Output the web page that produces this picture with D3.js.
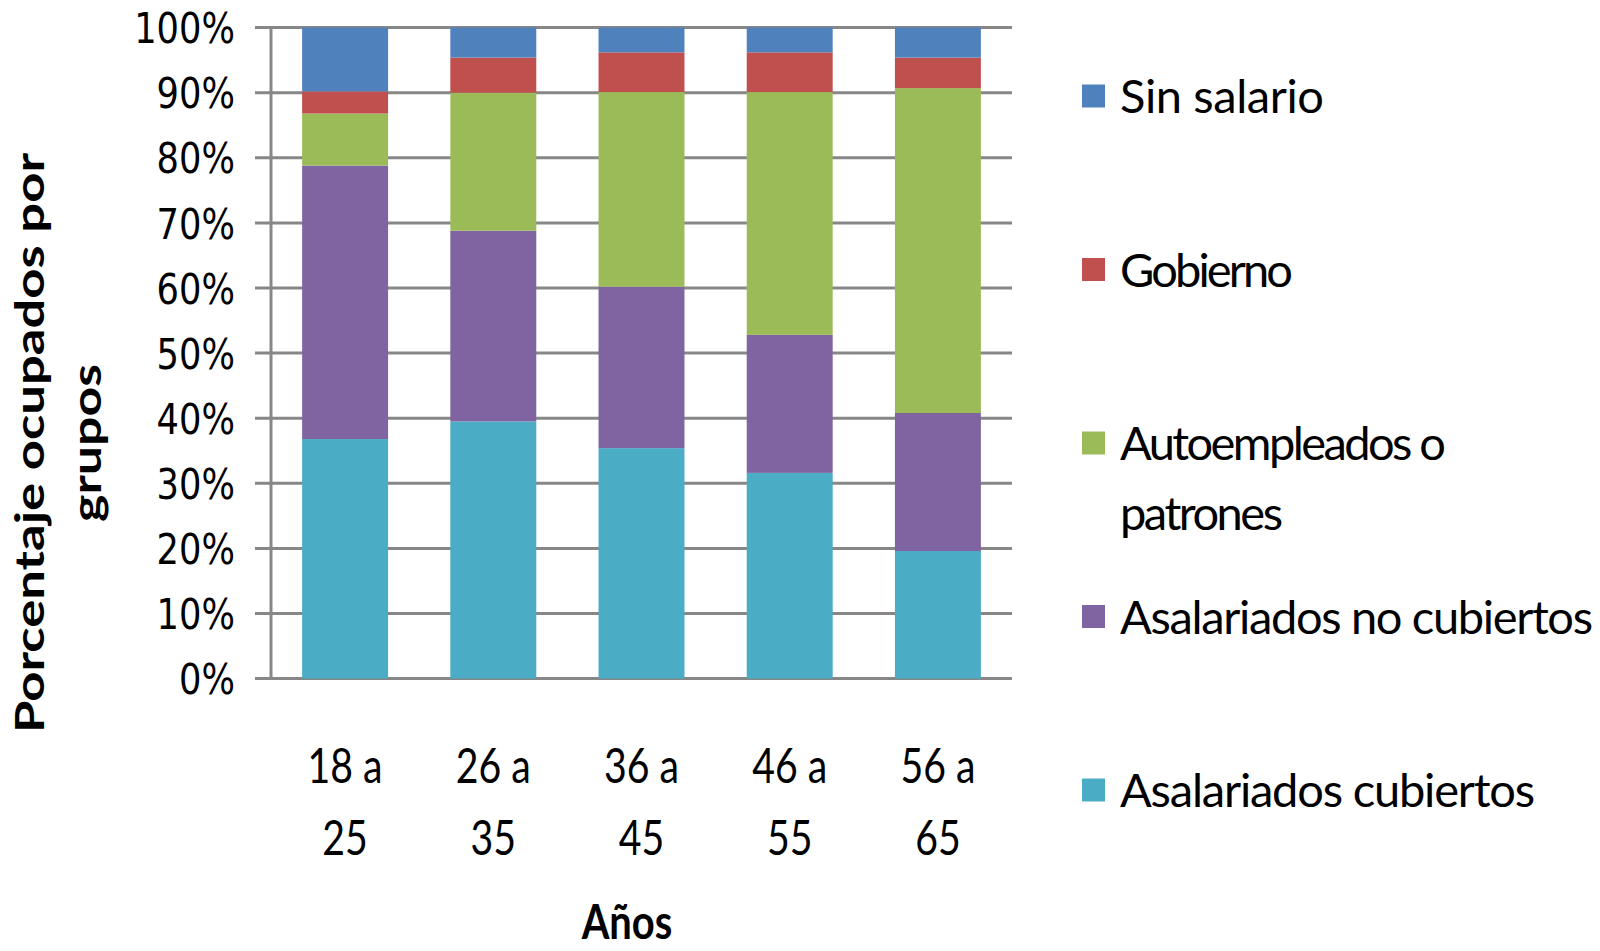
<!DOCTYPE html>
<html><head><meta charset="utf-8">
<script src="https://cdn.jsdelivr.net/npm/d3@7"></script>
<style>html,body{margin:0;padding:0;background:#fff;} svg{display:block;}</style>
</head><body>
<svg id="chart" width="1600" height="951"></svg>
<script>
// ---- data ----
const categories = [["18 a", "25"], ["26 a", "35"], ["36 a", "45"], ["46 a", "55"], ["56 a", "65"]];
const seriesNames = ["Asalariados cubiertos", "Asalariados no cubiertos", "Autoempleados o patrones", "Gobierno", "Sin salario"];
const asalariadosCubiertos   = [36.8, 39.5, 35.4, 31.6, 19.6];
const asalariadosNoCubiertos = [42.0, 29.3, 24.8, 21.2, 21.2];
const autoempleados          = [8.0, 21.2, 29.9, 37.3, 49.9];
const gobierno               = [3.4, 5.4, 6.1, 6.1, 4.7];
const sinSalario             = [9.8, 4.6, 3.8, 3.8, 4.6];
const yTicks = [0, 10, 20, 30, 40, 50, 60, 70, 80, 90, 100];
const colors = ["#4BACC6", "#8064A2", "#9BBB59", "#C0504D", "#4F81BD"];
const legendLines = {
  "Sin salario": ["Sin salario"],
  "Gobierno": ["Gobierno"],
  "Autoempleados o patrones": ["Autoempleados o", "patrones"],
  "Asalariados no cubiertos": ["Asalariados no cubiertos"],
  "Asalariados cubiertos": ["Asalariados cubiertos"]
};

// ---- layout ----
const svg = d3.select("#chart");
const pLeft = 271, pRight = 1012, pTop = 27.6, pBottom = 678.6;
const seriesValues = [asalariadosCubiertos, asalariadosNoCubiertos, autoempleados, gobierno, sinSalario];
const table = categories.map((c, i) => {
  const row = {cat: c.join(" ")};
  seriesNames.forEach((s, j) => row[s] = seriesValues[j][i]);
  return row;
});

const x = d3.scaleBand().domain(table.map(d => d.cat)).range([pLeft, pRight]).paddingInner(0.42).paddingOuter(0.21);
const y = d3.scaleLinear().domain([0, 100]).range([pBottom, pTop]);
const color = d3.scaleOrdinal().domain(seriesNames).range(colors);

// gridlines
svg.append("g").selectAll("line").data(yTicks).join("line")
  .attr("x1", pLeft - 16).attr("x2", pRight)
  .attr("y1", d => y(d)).attr("y2", d => y(d))
  .attr("stroke", "#878787").attr("stroke-width", 3);

// y axis line
svg.append("line").attr("x1", pLeft).attr("x2", pLeft).attr("y1", y(100) - 1.5).attr("y2", y(0) + 1.5)
  .attr("stroke", "#878787").attr("stroke-width", 3);

// bars
const stack = d3.stack().keys(seriesNames)(table);
svg.append("g").selectAll("g").data(stack).join("g")
  .attr("fill", d => color(d.key))
  .selectAll("rect").data(d => d).join("rect")
  .attr("x", d => x(d.data.cat))
  .attr("width", x.bandwidth())
  .attr("y", d => y(d[1]))
  .attr("height", d => y(d[0]) - y(d[1]));

// y tick labels
const yAxis = svg.append("g").attr("transform", `translate(${pLeft},0)`)
  .call(d3.axisLeft(y).tickValues(yTicks).tickFormat(d => d + "%").tickSize(0));
yAxis.select(".domain").remove();
yAxis.selectAll("text")
  .attr("x", 0).attr("dy", "0.36em")
  .attr("transform", "translate(-36,0) scale(0.84,1)")
  .style("font-family", "'DejaVu Sans', Verdana, sans-serif")
  .style("font-size", "42px").attr("fill", "#000");

// x labels
const xl = svg.append("g").selectAll("g").data(table).join("g")
  .attr("transform", d => `translate(${x(d.cat) + x.bandwidth() / 2},0)`);
xl.each(function(d, i) {
  const g = d3.select(this);
  categories[i].forEach((line, k) => {
    g.append("text").text(line)
      .attr("text-anchor", "middle")
      .attr("transform", `translate(0,${783 + k * 72}) scale(0.8,1)`)
      .style("font-family", "Lato, 'Open Sans', sans-serif")
      .style("font-size", "49px").attr("fill", "#000");
  });
});

// x axis title
svg.append("text").text("Años")
  .attr("text-anchor", "middle")
  .attr("transform", "translate(627,939) scale(0.85,1)")
  .style("font-family", "Lato, 'Open Sans', sans-serif").style("font-weight", "bold")
  .style("font-size", "47px").attr("fill", "#000");

// y axis title
const yt = svg.append("g").attr("transform", "translate(0,443) rotate(-90)");
yt.append("text").text("Porcentaje ocupados por")
  .attr("text-anchor", "middle").attr("x", 0).attr("y", 44)
  .attr("textLength", 580).attr("lengthAdjust", "spacingAndGlyphs")
  .style("font-family", "Lato, 'Open Sans', sans-serif").style("font-weight", "bold")
  .style("font-size", "40px").attr("fill", "#000");
yt.append("text").text("grupos")
  .attr("text-anchor", "middle").attr("x", 0).attr("y", 101)
  .attr("textLength", 158).attr("lengthAdjust", "spacingAndGlyphs")
  .style("font-family", "Lato, 'Open Sans', sans-serif").style("font-weight", "bold")
  .style("font-size", "40px").attr("fill", "#000");

// legend
const legendOrder = seriesNames.slice().reverse();
const legendWidths = {"Sin salario": 204, "Gobierno": 173, "Autoempleados o": 326, "patrones": 163,
  "Asalariados no cubiertos": 473, "Asalariados cubiertos": 415};
const lg = svg.append("g").selectAll("g").data(legendOrder).join("g")
  .attr("transform", (d, i) => `translate(1082,${96 + i * 173.5})`);
lg.append("rect").attr("x", 0).attr("y", -11.5).attr("width", 23).attr("height", 23)
  .attr("fill", d => color(d));
lg.each(function(d) {
  const g = d3.select(this);
  legendLines[d].forEach((line, k) => {
    g.append("text").text(line)
      .attr("x", 38).attr("y", 17 + k * 70)
      .attr("textLength", legendWidths[line]).attr("lengthAdjust", "spacing")
      .style("font-family", "Lato, 'Open Sans', sans-serif")
      .style("font-size", "47px").attr("fill", "#000");
  });
});
</script>
</body></html>
